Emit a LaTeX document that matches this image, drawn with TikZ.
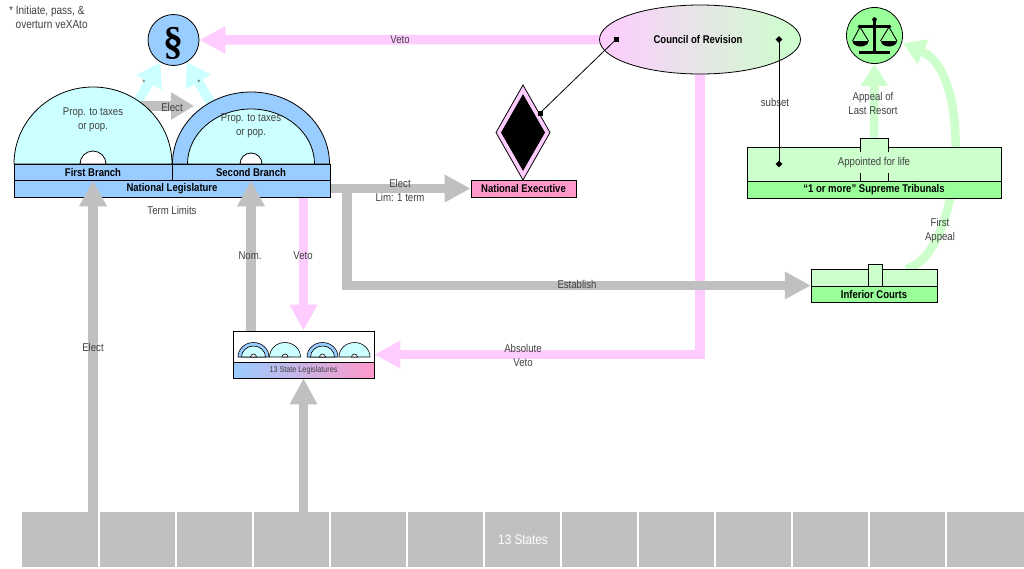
\documentclass[tikz,border=0pt]{standalone}
\usepackage{fontspec}
\setmainfont{Liberation Sans}[FakeStretch=0.85]
\newfontfamily\sectfont{Liberation Serif}
\usetikzlibrary{arrows.meta,shapes.geometric}
\pgfdeclarelayer{back}
\pgfdeclarelayer{bg}
\pgfsetlayers{back,bg,main}
\definecolor{cgray}{HTML}{C0C0C0}
\definecolor{cpink}{HTML}{FFCCFF}
\definecolor{ccyan}{HTML}{CCFFFF}
\definecolor{cblue}{HTML}{99CCFF}
\definecolor{cgreenl}{HTML}{CCFFCC}
\definecolor{cgreen}{HTML}{99FF99}
\definecolor{cpinkbox}{HTML}{FF99CC}
\definecolor{ctext}{HTML}{404040}
\tikzset{
  lbl/.style={font=\fontsize{11.3}{14}\selectfont, text=ctext, align=center, inner sep=0pt},
  bl/.style={font=\bfseries\fontsize{11.2}{12}\selectfont},
  box/.style={draw, line width=0.8pt, inner sep=0pt},
  fatarrow/.style={line width=9.5pt, -{Triangle[length=26pt,width=26pt]}},
  garrow/.style={fatarrow, draw=cgray},
  parrow/.style={fatarrow, draw=cpink},
  carrow/.style={line width=9.5pt, draw=ccyan, -{Triangle[length=23pt,width=28pt]}},
  grarrow/.style={line width=8.5pt, draw=cgreenl, -{Triangle[length=22pt,width=26pt]}},
  outl/.style={draw=black, line width=0.8pt},
  thin outl/.style={draw=black, line width=0.6pt},
}
\begin{document}
\begin{tikzpicture}[x=1pt,y=-1pt]
\useasboundingbox (0,0) rectangle (1024,568);
\begin{pgfonlayer}{back}
\fill[white] (0,0) rectangle (1024,568);
\node[fill=cgray, minimum width=1002pt, minimum height=55pt, inner sep=0pt, text=white,
      font=\fontsize{13.8}{14}\selectfont] (states) at (523,539.5) {13 States};
\foreach \k in {1,...,12} \draw[white, line width=1.2pt] (22+77*\k,512) -- (22+77*\k,567);
\end{pgfonlayer}

% ---------- National Legislature ----------
\filldraw[fill=ccyan, outl] (14,164) arc[start angle=180,end angle=360,x radius=79,y radius=77] -- cycle;
\filldraw[fill=white, outl] (80,164) arc[start angle=180,end angle=360,radius=13] -- cycle;
\filldraw[fill=cblue, outl] (172.5,164) arc[start angle=180,end angle=360,x radius=78.5,y radius=72] -- cycle;
\filldraw[fill=ccyan, outl] (187.5,164) arc[start angle=180,end angle=360,x radius=63.5,y radius=55] -- cycle;
\filldraw[fill=white, outl] (240,164) arc[start angle=180,end angle=360,radius=11] -- cycle;
\node[box, fill=cblue, minimum width=158pt, minimum height=16pt, bl] (firstbr) at (93,172) {First Branch};
\node[box, fill=cblue, minimum width=158pt, minimum height=16pt, bl] (secbr) at (251,172) {Second Branch};
\node[box, fill=cblue, minimum width=316pt, minimum height=17pt, bl] (natleg) at (172,188.5) {National Legislature};
\node[lbl] at (93,120) {Prop. to taxes\\or pop.};
\node[lbl] at (251,126) {Prop. to taxes\\or pop.};
\coordinate (domeA) at (140,106);
\coordinate (domeB) at (194,106);

% section circle
\node[circle, outl, fill=cblue, minimum size=51pt, inner sep=0pt] (sect) at (173.5,40) {};
\node[inner sep=0pt, font=\sectfont\bfseries\fontsize{40}{40}\selectfont] at (173.5,43) {§};

% ---------- Council of Revision ----------
\node[ellipse, outl, left color=cpink, right color=cgreenl, minimum width=201pt, minimum height=69pt, inner sep=0pt] (council) at (700,39.5) {};
\node[bl] at (698,39.5) {Council of Revision};
\node[fill=black, minimum size=5pt, inner sep=0pt] (sqA) at (616,39.5) {};
\node[diamond, fill=black, minimum size=7pt, inner sep=0pt] (dmA) at (779,39.5) {};

% ---------- National Executive ----------
\filldraw[fill=cpink, outl] (523,85) -- (550,132.5) -- (523,180) -- (496,132.5) -- cycle;
\filldraw[fill=black, outl] (523,95) -- (544.5,132.5) -- (523,170) -- (501.5,132.5) -- cycle;
\node[fill=black, minimum size=5pt, inner sep=0pt] (sqB) at (540,113) {};
\draw[line width=0.8pt] (sqA.center) -- (sqB.center);
\node[box, fill=cpinkbox, minimum width=105pt, minimum height=17pt, bl] (natexec) at (523.5,188.5) {National Executive};

% ---------- Scales ----------
\node[circle, outl, fill=cgreen, minimum size=56pt, inner sep=0pt] (scales) at (874.5,35.5) {};
\fill (873,21) rectangle (876,52);
\fill (874.5,19.5) circle (2.3);
\draw[line width=2.2pt] (859.5,26.5) -- (889.5,26.5);
\fill (859.5,26.5) circle (1.9);
\fill (889.5,26.5) circle (1.9);
\fill (859,51) rectangle (890,54);
\draw[line width=0.9pt] (852.5,41) -- (860,27) -- (868.5,41);
\draw[line width=0.9pt] (880.5,41) -- (889,27) -- (897,41);
\fill (852.5,41) arc[start angle=180,end angle=0,x radius=8,y radius=5.5] -- cycle;
\fill (881,41) arc[start angle=180,end angle=0,x radius=8,y radius=5.5] -- cycle;
\coordinate (scalesR) at (903,43);

% ---------- Supreme Tribunals ----------
\node[box, fill=cgreenl, minimum width=254pt, minimum height=34pt] (supup) at (874,164) {};
\node[box, fill=cgreen, minimum width=254pt, minimum height=17pt, bl] (supbar) at (874,189.5) {“1 or more” Supreme Tribunals};
\node[box, fill=cgreenl, minimum width=28pt, minimum height=43pt] (suptab) at (874,159.5) {};
\node[lbl, fill=cgreenl, inner xsep=2pt, inner ysep=5pt] at (874,162.5) {Appointed for life};
\node[lbl, fill=white, inner sep=0.5pt] at (775,102) {subset};
\node[diamond, fill=black, minimum size=7pt, inner sep=0pt] (dmB) at (779,164) {};
\draw[line width=0.8pt] (dmA.center) -- (dmB.center);

% ---------- Inferior Courts ----------
\node[box, fill=cgreenl, minimum width=126pt, minimum height=17pt] (infup) at (874,277.5) {};
\node[box, fill=cgreen, minimum width=126pt, minimum height=16pt, bl] (infbar) at (874,294) {Inferior Courts};
\node[box, fill=cgreenl, minimum width=14pt, minimum height=22pt] (inftab) at (875,275) {};
\node[minimum width=126pt, minimum height=33pt, inner sep=0pt] (infc) at (874,285.5) {};
\coordinate (infR) at (906,269);

% ---------- State Legislatures ----------
\node[box, fill=white, minimum width=141pt, minimum height=47pt] (stateleg) at (303.5,354.5) {};
\shade[left color=cblue, right color=cpinkbox] (233,362) rectangle (374,378);
\draw[outl] (233,331) rectangle (374,378);
\draw[outl] (233,362) -- (374,362);
\node[font=\fontsize{8.5}{9}\selectfont, text=ctext, inner sep=0pt] at (303.5,370) {13 State Legislatures};
\foreach \cx in {253.5,322.5} {
  \filldraw[fill=cblue, thin outl] (\cx-15.5,357) arc[start angle=180,end angle=360,x radius=15.5,y radius=14.5] -- cycle;
  \filldraw[fill=ccyan, thin outl] (\cx-12,357) arc[start angle=180,end angle=360,x radius=12,y radius=11] -- cycle;
  \filldraw[fill=white, thin outl] (\cx-3,357) arc[start angle=180,end angle=360,radius=3] -- cycle;
}
\foreach \cx in {285,354.5} {
  \filldraw[fill=ccyan, thin outl] (\cx-15.5,357) arc[start angle=180,end angle=360,x radius=15.5,y radius=14.5] -- cycle;
  \filldraw[fill=white, thin outl] (\cx-3,357) arc[start angle=180,end angle=360,radius=3] -- cycle;
}
\coordinate (estab) at (347,188.5);

% ---------- connectors (behind) ----------
\begin{pgfonlayer}{bg}
\draw[carrow] (130,115) -- (sect);
\draw[carrow] (217,113) -- (sect);
\draw[line width=10pt, draw=cgray, -{Triangle[length=23pt,width=26pt]}] (domeA) -- (domeB);
\draw[parrow] (council.west) -- (sect.east);
\draw[parrow] (council.south) |- (stateleg.east);
\draw[parrow] (natleg.south -| stateleg.north) -- (stateleg.north);
\draw[garrow] (natleg.east) -- (natexec.west);
\draw[garrow] (estab) |- (infc.west);
\draw[grarrow] (suptab.north) -- (scales.south);
\draw[grarrow] (infR) .. controls (962,255) and (975,75) .. (scalesR);
\draw[garrow] (states.north -| stateleg.south) -- (stateleg.south);
\end{pgfonlayer}
\draw[garrow] (states.north -| firstbr.south) -- (firstbr.south);
\draw[garrow] (stateleg.north -| secbr.south) -- (secbr.south);

% ---------- labels ----------
\node[lbl, font=\fontsize{11.8}{14}\selectfont, align=left, anchor=north west] at (9,6) {* Initiate, pass, \&\\\hspace{6.5pt}overturn veXAto};
\node[lbl] at (400,39.5) {Veto};
\node[lbl] at (172,107) {Elect};
\node[lbl, font=\fontsize{8}{8}\selectfont] at (144,83) {*};
\node[lbl, font=\fontsize{8}{8}\selectfont] at (199,83) {*};
\node[lbl] at (172,210) {Term Limits};
\node[lbl] at (400,190) {Elect\\Lim: 1 term};
\node[lbl] at (250,256) {Nom.};
\node[lbl] at (303,256) {Veto};
\node[lbl] at (577,284) {Establish};
\node[lbl] at (93,347) {Elect};
\node[lbl] at (523,355) {Absolute\\Veto};
\node[lbl] at (873,103) {Appeal of\\Last Resort};
\node[lbl] at (940,231) {First\\Appeal};
\end{tikzpicture}
\end{document}
